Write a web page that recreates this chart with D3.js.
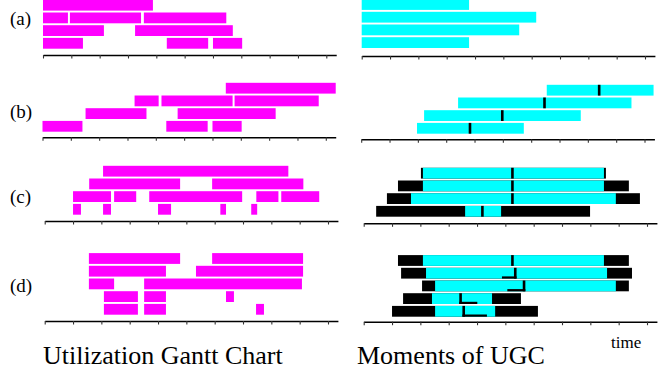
<!DOCTYPE html>
<html>
<head>
<meta charset="utf-8">
<script src="https://cdn.jsdelivr.net/npm/d3@7"></script>
<style>
  html, body { margin: 0; padding: 0; background: #fff; }
  svg { display: block; }
  text { font-family: "Liberation Serif", "Times New Roman", serif; fill: #000; }
</style>
</head>
<body>
<svg id="chart" width="667" height="374"></svg>
<script>
// ---------- data (time units; one tick = one unit) ----------
const panelLabels = ["(a)", "(b)", "(c)", "(d)"];
const tickValues = [0, 1, 2, 3, 4, 5, 6, 7, 8, 9, 10];
const titleLeft = "Utilization Gantt Chart";
const titleRight = "Moments of UGC";
const timeLabel = "time";

// Utilization Gantt chart: per row, a list of [start, end] busy intervals
const ganttA = [
  [[0, 3.88]],
  [[0, 0.88], [0.95, 3.46], [3.56, 6.47]],
  [[0, 2.15], [3.25, 6.7]],
  [[0, 1.41], [4.37, 5.83], [6.0, 7.03]]
];
const ganttB = [
  [[6.47, 10.35]],
  [[3.25, 4.1], [4.2, 6.71], [6.78, 9.75]],
  [[1.52, 3.67], [4.77, 8.23]],
  [[0, 1.41], [4.37, 5.83], [6.0, 7.03]]
];
const ganttC = [
  [[2.06, 8.6]],
  [[1.57, 4.78], [5.91, 9.13]],
  [[1.0, 2.34], [2.45, 3.23], [3.69, 6.97], [7.47, 8.25], [8.35, 9.69]],
  [[1.0, 1.28], [2.06, 2.34], [4.0, 4.46], [6.2, 6.4], [7.29, 7.5]]
];
const ganttD = [
  [[1.56, 4.78], [5.91, 9.12]],
  [[1.56, 4.28], [5.34, 9.12]],
  [[1.56, 2.45], [3.51, 9.08]],
  [[2.09, 3.29], [3.51, 4.28], [6.4, 6.68]],
  [[2.09, 3.29], [3.51, 4.28], [7.46, 7.74]]
];

// Moments of the UGC, per row: outer range, inner range, mean and mean shift
const momentsA = {
  outerLo: [0, 0, 0, 0],
  innerLo: [0, 0, 0, 0],
  innerHi: [3.79, 6.16, 5.56, 3.79],
  outerHi: [3.79, 6.16, 5.56, 3.79],
  mean:    [null, null, null, null],
  shift:   [null, null, null, null]
};
const momentsB = {
  outerLo: [6.55, 3.42, 2.22, 1.97],
  innerLo: [6.55, 3.42, 2.22, 1.97],
  innerHi: [10.32, 9.54, 7.75, 5.74],
  outerHi: [10.32, 9.54, 7.75, 5.74],
  mean:    [8.4, 6.47, 4.98, 3.84],
  shift:   [null, null, null, null]
};
const momentsC = {
  outerLo: [2.02, 1.21, 0.82, 0.44],
  innerLo: [2.09, 2.09, 1.67, 3.58],
  innerHi: [8.48, 8.48, 8.9, 4.85],
  outerHi: [8.55, 9.36, 9.75, 7.99],
  mean:    [5.25, 5.25, 5.25, 4.19],
  shift:   [null, null, null, null]
};
const momentsD = {
  outerLo: [1.21, 1.32, 2.06, 1.39, 1.0],
  innerLo: [2.09, 2.2, 2.52, 2.41, 2.52],
  innerHi: [8.48, 8.59, 8.9, 4.53, 4.64],
  outerHi: [9.36, 9.47, 9.36, 5.55, 6.15],
  mean:    [5.25, 5.35, 5.66, 3.42, 3.53],
  shift:   [null, 4.88, 5.07, 4.01, 4.35]
};

// ---------- layout ----------
const MAGENTA = "#ff00ff", CYAN = "#00ffff", BLACK = "#000";
const UNIT = 28.33, DOMAIN_END = 10.35;
const ROW_STEP = 12.7, ROW_PAD = 0.15;

const leftPanels = [
  { data: ganttA, x0: 43.0, rowsBottom: 48.7, axisY: 55.0 },
  { data: ganttB, x0: 42.5, rowsBottom: 131.7, axisY: 137.3 },
  { data: ganttC, x0: 44.7, rowsBottom: 214.7, axisY: 221.0 },
  { data: ganttD, x0: 44.7, rowsBottom: 314.7, axisY: 321.0 }
];
const rightPanels = [
  { data: momentsA, x0: 361.7, rowsBottom: 48.0, axisY: 56.0 },
  { data: momentsB, x0: 361.2, rowsBottom: 133.7, axisY: 139.3 },
  { data: momentsC, x0: 363.7, rowsBottom: 216.7, axisY: 223.3 },
  { data: momentsD, x0: 363.7, rowsBottom: 316.7, axisY: 321.7 }
];
const labelBaselines = [25, 118, 203, 292];

const svg = d3.select("#chart");

function timeScale(x0) {
  return d3.scaleLinear().domain([0, DOMAIN_END]).range([x0, x0 + DOMAIN_END * UNIT]);
}
function rowScale(n, bottom) {
  const len = ROW_STEP * (n - ROW_PAD);
  return d3.scaleBand().domain(d3.range(n)).range([bottom - len, bottom])
    .paddingInner(ROW_PAD).paddingOuter(0);
}
function drawAxis(x, y) {
  const g = svg.append("g").attr("transform", `translate(0,${y})`)
    .call(d3.axisBottom(x).tickValues(tickValues).tickSize(3.5).tickSizeOuter(0).tickFormat(""));
  g.select(".domain").attr("stroke", "#000").attr("stroke-width", 1.6);
  g.selectAll(".tick line").attr("stroke", "#333").attr("stroke-width", 1.1);
}

// Left column: utilization Gantt charts
leftPanels.forEach(p => {
  const x = timeScale(p.x0);
  const y = rowScale(p.data.length, p.rowsBottom);
  const g = svg.append("g");
  p.data.forEach((row, i) => {
    g.selectAll(null).data(row).enter().append("rect")
      .attr("x", d => x(d[0]))
      .attr("y", y(i))
      .attr("width", d => x(d[1]) - x(d[0]))
      .attr("height", y.bandwidth())
      .attr("fill", MAGENTA);
  });
  drawAxis(x, p.axisY);
});

// Right column: moments of the UGC
rightPanels.forEach(p => {
  const m = p.data;
  const n = m.innerLo.length;
  const x = timeScale(p.x0);
  const y = rowScale(n, p.rowsBottom);
  const g = svg.append("g");
  const bw = y.bandwidth();
  d3.range(n).forEach(i => {
    // outer range (black)
    if (m.outerLo[i] < m.innerLo[i] || m.outerHi[i] > m.innerHi[i]) {
      g.append("rect").attr("x", x(m.outerLo[i])).attr("y", y(i))
        .attr("width", x(m.outerHi[i]) - x(m.outerLo[i])).attr("height", bw)
        .attr("fill", BLACK);
    }
    // inner range (cyan)
    g.append("rect").attr("x", x(m.innerLo[i])).attr("y", y(i))
      .attr("width", x(m.innerHi[i]) - x(m.innerLo[i])).attr("height", bw)
      .attr("fill", CYAN);
    // mean marker
    if (m.mean[i] != null) {
      g.append("rect").attr("x", x(m.mean[i]) - 1.3).attr("y", y(i))
        .attr("width", 2.6).attr("height", bw).attr("fill", BLACK);
    }
    // shift of the mean, drawn along the bottom of the row
    if (m.shift[i] != null) {
      const a = Math.min(x(m.shift[i]), x(m.mean[i]) - 1.3);
      const b = Math.max(x(m.shift[i]), x(m.mean[i]) + 1.3);
      g.append("rect").attr("x", a).attr("y", y(i) + bw - 2.2)
        .attr("width", b - a).attr("height", 2.2).attr("fill", BLACK);
    }
  });
  drawAxis(x, p.axisY);
});

// Panel labels
svg.selectAll("text.panel").data(panelLabels).enter().append("text")
  .attr("class", "panel")
  .attr("x", 10).attr("y", (d, i) => labelBaselines[i])
  .attr("font-size", 19)
  .text(d => d);

// Titles
svg.append("text").attr("x", 43).attr("y", 364).attr("font-size", 26).text(titleLeft);
svg.append("text").attr("x", 357).attr("y", 364).attr("font-size", 26).text(titleRight);
svg.append("text").attr("x", 611).attr("y", 348).attr("font-size", 17).text(timeLabel);
</script>
</body>
</html>
